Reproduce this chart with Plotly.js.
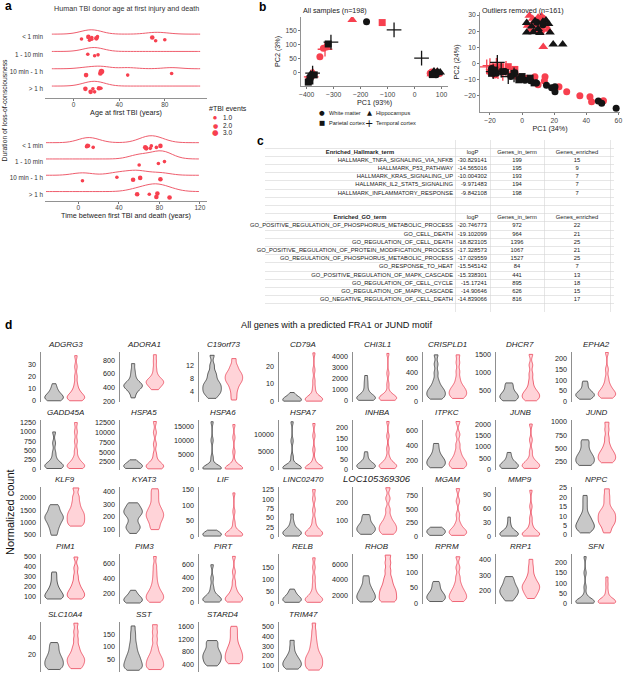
<!DOCTYPE html>
<html><head><meta charset="utf-8">
<script src="https://cdn.plot.ly/plotly-3.0.1.min.js"></script>
<style>html,body{margin:0;padding:0;background:#fff}</style>
</head><body><div id="chart" style="width:624px;height:675px"></div>
<script>
// ---------------- Panel a data ----------------
const locCategories = ['< 1 min', '1 - 10 min', '10 min - 1 h', '> 1 h'];
const ageFirstTBI = [[7,13,14,16,16,20,21,69,72,80],[12.5,18.5,21.5],[11,23.5,24.5,47.5,86],[10.4,15,17,18.5,22.3,24]];
const ageFirstTBIEvents = [[1,2,1,1,1,2,1,2,1,1],[1,1,1],[2,2,3,1,1],[2,2,1,1,2,1]];
const yearsToDeath = [[8,9,10,14.6,66,67,71,72,77,81],[60,79,85],[4,38,54,61,81],[58,70,77,78,90]];
const yearsToDeathEvents = [[1,2,1,1,2,2,1,1,1,2],[1,1,1],[1,1,2,2,2],[2,1,2,2,2]];
const tbiEventLevels = [1, 2, 3];
const tbiEventLabels = ['1.0', '2.0', '3.0'];

// ---------------- Panel b data ----------------
const tissues = ['White matter', 'Hippocampus', 'Parietal cortex', 'Temporal cortex'];
const pcaAllPC1 = [-231,-178,-120,-76,26,-320,-310,-338,-332,-351,-326,-394,-390,-387,-381,-385,-378,-383,-372,-391,-376,-388,58,64,68,74,78,83,88,72,80,66,92,85,62,76,95];
const pcaAllPC2 = [190,183,180,154,52,103,110,88,84,57,92,-34,-28,-20,-12,-6,-2,-15,-8,-25,0,-30,-2,2,-4,0,-6,3,-2,5,-8,-7,-3,4,-5,-3,1];
const pcaAllTissue = [1,0,2,3,3,2,3,0,3,0,0,2,0,0,0,1,3,3,2,2,1,2,0,0,0,1,0,1,1,1,0,2,0,1,1,0,1];
const pcaAllGroup = [1,0,1,0,0,0,0,1,1,1,1,0,1,0,1,0,0,1,0,1,1,0,1,1,0,0,1,1,0,0,0,0,1,0,1,1,0];

const pcaOutPC1 = [4.5,12.2,6.6,10,14,9,12,5,15,13.2,8,11,3.5,16,2.9,8.1,14.9,17.4,19.4,25.3,2.9,11.1,6,16.5,10,13,7,9.1,13,7,12,
  -20,-18,-15,-16,-12,-22,-10,-15.4,-8.6,-13,-5,-18,-13.3,-8.6,-4.5,-17,-17,-12,-5,0,5,7.5,-2,-19,
  -19,-16,-10.7,-4.5,1.8,5.3,18.4,20.5,15.2,20.5,47.5,49.6,58.6,-1,9,-7,
  -14,-6,8,14.3,13.9,23,27.8,36,42.3,43.3,50.7,-20,-17,-3,3,10];
const pcaOutPC2 = [29.6,29.3,27.8,28.5,27.5,24,22,21,23,10.4,20,25.5,23.5,21,25.2,26.4,26.8,19.3,11.9,11.9,19.3,19,23,24.5,21.5,26,19.5,25.6,24,24.5,20,
  -1.3,-3.5,-5,-1,-6,-2,-3,0.8,-8.1,-4,-7,-5,-1.9,-1.9,-3.6,-2,-4,-5,-6,-8,-9,-11.9,-10,-6,
  -3,-6,-4.9,-5.7,-10.3,-10.6,-14.9,-14.3,-13.3,-17.4,-23.1,-24.5,-27.6,-9,-12,-8,
  -3,-6,-8.1,-8.1,-10.8,-14.3,-17.4,-19.8,-20.4,-23.5,-22.9,-5,-7,-8,-9,-13];
const pcaOutTissue = [1,1,1,1,1,1,1,1,1,1,1,1,1,1,1,1,1,1,1,1,1,1,1,1,1,1,1,0,0,0,0,
  3,3,3,3,3,3,3,3,3,3,3,3,2,2,2,2,2,2,2,2,2,2,2,2,
  0,0,0,0,0,0,0,0,0,0,0,0,0,0,0,0,
  0,0,0,0,0,0,0,0,0,0,0,0,0,0,0,0];
const pcaOutGroup = [1,1,1,1,1,1,1,1,1,1,1,1,1,1,0,0,0,0,0,0,0,0,0,0,0,0,0,0,0,1,1,
  1,1,1,1,1,1,1,0,0,0,0,0,1,1,1,1,0,0,0,0,0,0,0,0,
  0,0,0,0,0,0,0,0,0,0,0,0,0,0,0,0,
  1,1,1,1,1,1,1,1,1,1,1,1,1,1,1,1];

// ---------------- Panel c data ----------------
const tableHeaders = ['logP', 'Genes_in_term', 'Genes_enriched'];
const hallmarkTerms = ['HALLMARK_TNFA_SIGNALING_VIA_NFKB','HALLMARK_P53_PATHWAY','HALLMARK_KRAS_SIGNALING_UP','HALLMARK_IL2_STAT5_SIGNALING','HALLMARK_INFLAMMATORY_RESPONSE'];
const hallmarkLogP = ['-30.829141','-14.565016','-10.004302','-9.971483','-9.842108'];
const hallmarkInTerm = [199,195,193,194,198];
const hallmarkEnriched = [15,9,7,7,7];
const goTerms = ['GO_POSITIVE_REGULATION_OF_PHOSPHORUS_METABOLIC_PROCESS','GO_CELL_DEATH','GO_REGULATION_OF_CELL_DEATH','GO_POSITIVE_REGULATION_OF_PROTEIN_MODIFICATION_PROCESS','GO_REGULATION_OF_PHOSPHORUS_METABOLIC_PROCESS','GO_RESPONSE_TO_HEAT','GO_POSITIVE_REGULATION_OF_MAPK_CASCADE','GO_REGULATION_OF_CELL_CYCLE','GO_REGULATION_OF_MAPK_CASCADE','GO_NEGATIVE_REGULATION_OF_CELL_DEATH'];
const goLogP = ['-20.746773','-19.102099','-18.823105','-17.328573','-17.029559','-15.545142','-15.338301','-15.17241','-14.90646','-14.839066'];
const goInTerm = [972,964,1396,1067,1527,84,441,895,626,816];
const goEnriched = [22,21,25,21,25,7,13,18,15,17];

// ---------------- Panel d data ----------------
const genes = ['ADGRG3','ADORA1','C19orf73','CD79A','CHI3L1','CRISPLD1','DHCR7','EPHA2',
  'GADD45A','HSPA5','HSPA6','HSPA7','INHBA','ITPKC','JUNB','JUND',
  'KLF9','KYAT3','LIF','LINC02470','LOC105369306','MGAM','MMP9','NPPC',
  'PIM1','PIM3','PIRT','RELB','RHOB','RPRM','RRP1','SFN',
  'SLC10A4','SST','STARD4','TRIM47'];
const ctrlCounts = [
  [0,1,1,2,2,3,3,4,5,6,7,9,11,14],
  [250,320,360,390,410,420,430,440,460,480,520,580,650,750],
  [2,3,3.5,4,4.5,5,5.5,6,6.5,7,8,9,10,12,15],
  [0,0,0,0.5,0.5,1,1,1,1.5,2,3,5],
  [50,100,150,200,250,300,350,400,500,700,1000,1400,1800,2300],
  [30,50,70,90,110,130,150,170,200,240,300,400,520,650],
  [200,230,260,290,320,350,380,420,480,560,650,700],
  [10,15,20,25,28,30,33,36,40,45,55,70,85,95],
  [20,40,60,80,100,120,150,200,300,450,700,1000],
  [800,1000,1100,1200,1300,1400,1500,1700,2000,2400,3000],
  [50,100,150,200,300,400,500,700,1500,4000,10000,16500],
  [50,100,150,200,300,400,500,700,1500,3500,8000,13500],
  [5,8,10,12,15,18,20,23,27,33,45,65,85],
  [110,130,150,170,190,210,230,260,300,360,430],
  [50,80,110,140,170,200,240,300,400,550,750],
  [180,210,240,270,300,330,360,400,450,520,600,660],
  [480,650,800,900,1000,1080,1150,1200,1250,1320,1400,1500,1620,1720],
  [70,95,110,120,130,150,175,200,215,225,235,245,255,265,280,300,310],
  [1,2,3,4,5,6,8,10,14,20],
  [1,3,5,7,9,11,13,16,20,28,40,60],
  [20,30,38,45,52,60,68,78,95,115,130],
  [20,40,60,80,100,120,140,170],
  [1,2,3,4,5,6,7,9,12,18,28,42],
  [1,2,3,3.5,4,5,5.5,6,7,8,9,10,12,15,18,21],
  [70,80,90,100,115,130,150,170,200,240,290,340],
  [70,80,90,100,110,120,135,150,170,200,240],
  [10,20,30,40,50,60,75,90,120,170,250,380,590],
  [5,8,10,12,15,18,21,25,30,38,48,60],
  [1100,1300,1500,1700,1900,2100,2300,2600,2900,3300,3900,4500],
  [5,8,12,16,20,24,28,33,40,50,60,70],
  [135,155,170,180,190,200,210,220,235,250,270,290],
  [1,2,4,6,8,10,12,15,20,40,80,150,230],
  [2,4,6,8,10,12,14,16,19,22,26,30,34],
  [5,10,15,20,25,30,36,42,48,55,62,70,80,92,105,120,140,160,185],
  [350,420,480,540,600,650,700,760,820,900,1000,1100,1150],
  [60,75,90,105,120,135,150,170,195,230,290,360]
];
const tbiCounts = [
  [0,1,1,2,3,3,4,5,6,8,10,14,20,28,37],
  [370,400,430,450,470,480,490,500,520,550,600,680,780,880],
  [1.5,3,4.5,5.5,6.5,7,7.5,8,8.5,9,9.5,10,11,12,14],
  [0,0,0.5,1,1,1,1.5,2,3,5,8,12,18,28],
  [50,100,150,200,250,300,350,400,500,800,1500,2500,4300],
  [40,60,80,100,120,140,160,180,210,250,320,420,540,650],
  [200,240,280,320,360,400,440,500,600,750,950,1200,1500],
  [15,20,25,30,35,40,45,50,60,70,85,110,150,230],
  [20,40,60,80,100,130,170,230,320,500,750,1000,1250],
  [700,900,1100,1300,1500,1800,2200,3000,4500,7000,10000,12800],
  [50,100,150,200,300,400,600,1000,2500,6000,11000,15500],
  [50,100,150,200,300,400,600,1000,2500,5500,9500,13000],
  [5,8,11,14,17,20,24,30,40,60,100,160,230],
  [100,120,140,160,180,200,230,270,330,420,550,720],
  [50,80,110,150,190,230,280,350,500,800,1300,2000],
  [230,260,290,320,350,380,410,450,500,580,700,850,990],
  [850,950,1050,1150,1250,1350,1450,1600,1800,2050,2400],
  [100,130,160,180,200,215,230,250,270,300,340,380,420],
  [1,2,3,4,5,6,8,11,16,25,45,80,140],
  [1,3,5,7,9,12,15,20,30,45,70,100,125],
  [20,30,40,50,60,70,80,95,120,160,220,280],
  [20,40,60,80,100,130,170,250,400,650,880],
  [1,2,3,4,5,6,8,11,16,25,40,65,100],
  [1,3,5,6,7,8,9,10,11,12,13,15,18,21,24.5],
  [70,85,100,115,130,150,170,200,240,300,380,490],
  [80,95,110,125,140,155,170,185,200,220,245,275,310,360,420,490,570,690],
  [10,20,35,50,65,80,100,130,170,230,330,480,720],
  [5,8,11,14,17,20,24,30,40,55,80,110,150,190],
  [1100,1300,1600,1900,2200,2500,2800,3200,3700,4300,5200,6200,7200],
  [5,10,15,20,25,30,36,43,52,65,85,115,150],
  [150,165,180,190,200,210,218,226,234,242,252,265,280,300,330,360,400],
  [1,2,4,6,8,10,12,15,20,35,60,95,130],
  [3,5,8,10,12,14,16,18,21,25,30,38,47,57],
  [8,15,22,30,38,46,55,65,80,100,130,160,190],
  [420,480,540,600,660,720,780,850,930,1020,1150,1300,1450,1600],
  [50,65,80,95,110,125,140,155,170,185,200,220,245,275,310,350,400,460,540]
];
const geneTicks = [
  [0,10,20,30],[200,400,600,800],[4,8,12],[0,10,20],[0,1000,2000,3000,4000],[0,200,400,600],[500,1000,1500],[0,50,100,150,200],
  [0,250,500,750,1000,1250],[2500,5000,7500,10000,12500],[0,5000,10000,15000],[0,5000,10000],[0,50,100,150,200],[200,400,600],[0,500,1000,1500,2000],[250,500,750,1000],
  [500,1000,1500,2000],[100,200,300,400],[0,50,100,150],[0,25,50,75,100,125],[100,200],[0,250,500,750],[0,30,60,90],[0,5,10,15,20,25],
  [100,200,300,400,500],[200,400,600],[0,200,400,600],[0,50,100,150],[2000,4000,6000],[0,50,100,150],[200,300,400],[0,50,100,150,200],
  [0,20,40],[0,50,100,150],[400,800,1200,1600],[100,200,300,400,500]
];

// ---------------- styles / layout geometry ----------------
const W = 624, H = 675;
const fx = p => p / W, fy = p => 1 - p / H;
const FONT = 'Liberation Sans, Arial, sans-serif';
const RED = '#f7404f', RIDGE = '#ef5d6d', BLACK = '#141414';
const geneYRanges = [
  [-1,40],[190,920],[0.9,16],[-0.5,28.5],[-100,4430],[-10,690],[166,1566],[-3,232],
  [-20,1320],[400,13200],[-300,17100],[-300,14000],[-2,237],[80,740],[-20,2176],[94,1031],
  [408,2438],[42,434],[-2,159],[-1.5,132],[5,284],[-10,910],[-1,107],[-1.2,25.5],
  [20,520],[57,724],[-20,757],[-2,206],[830,7340],[-3,159],[115,434],[-3,243],
  [-1,58.4],[-2,201],[157,1736],[30,551]
];
const bandwidthFrac = 0.06;
const colAxisX = [41,120,199,279,353,423,496,572];
const rowTopY = [352,420,487,554,622];

const traces = [];
const annotations = [];
const layout = {
  width: W, height: H, autosize: false,
  margin: {l:0, r:0, t:0, b:0},
  paper_bgcolor: '#ffffff', plot_bgcolor: 'rgba(0,0,0,0)',
  showlegend: false, violinmode: 'overlay',
  font: {family: FONT, color: '#222', size: 7},
  annotations: annotations
};
function ann(text, x, y, opts) {
  annotations.push(Object.assign({text: text, x: fx(x), y: fy(y), xref: 'paper', yref: 'paper',
    showarrow: false, xanchor: 'center', yanchor: 'middle', font: {size: 7, color: '#222', family: FONT}}, opts || {}));
}

// ---------------- Panel a ----------------
const pointSizes = [3.6, 4.6, 5.6];
function ridgePanel(values, events, xa, ya, span, bw, widths) {
  locCategories.forEach((cat, i) => {
    traces.push({type:'violin', orientation:'h', x: values[i], y0: cat, name: cat, xaxis: xa, yaxis: ya,
      side: 'positive', points: false, spanmode: 'manual', span: span, bandwidth: bw, width: widths[i],
      scalemode: 'width', line: {color: RIDGE, width: 1}, fillcolor: 'rgba(0,0,0,0)', hoverinfo: 'skip',
      box: {visible: false}, meanline: {visible: false}});
  });
  tbiEventLevels.forEach((lv, k) => {
    const xs = [], ys = [];
    values.forEach((arr, i) => arr.forEach((v, j) => { if (events[i][j] === lv) { xs.push(v); ys.push(locCategories[i]); } }));
    traces.push({type:'violin', orientation:'h', x: xs, y: ys, xaxis: xa, yaxis: ya, name: tbiEventLabels[k],
      points: 'all', pointpos: -0.8, jitter: 0.5, width: 0.6, bandwidth: 5, spanmode: 'hard',
      line: {width: 0, color: 'rgba(0,0,0,0)'}, fillcolor: 'rgba(0,0,0,0)', hoveron: 'points',
      marker: {size: pointSizes[k], color: RED}, box: {visible: false}, meanline: {visible: false}});
  });
}
ridgePanel(ageFirstTBI, ageFirstTBIEvents, 'x', 'y', [-19, 111], 8, [0.5, 0.45, 0.3, 0.55]);
ridgePanel(yearsToDeath, yearsToDeathEvents, 'x2', 'y2', [-32, 119], 10, [0.85, 1.0, 0.62, 0.95]);

const ridgeY = {type: 'category', categoryorder: 'array', categoryarray: locCategories.slice().reverse(),
  showline: false, ticks: '', showgrid: false, zeroline: false, tickfont: {size: 6.3, color: '#333'}, ticklabelshift: 3, ticklabelstandoff: 1};
const ridgeX = {showline: true, linecolor: '#777', linewidth: 0.8, ticks: 'outside', ticklen: 2, tickcolor: '#777',
  showgrid: false, zeroline: false, tickfont: {size: 6.5, color: '#444'}, ticklabelstandoff: -2};
layout.xaxis = Object.assign({}, ridgeX, {domain: [fx(45), fx(207)], range: [-25, 117], tickvals: [0,40,80], anchor: 'y',
  title: {text: 'Age at first TBI (years)', font: {size: 7.2, color: '#222'}, standoff: 0}});
layout.yaxis = Object.assign({}, ridgeY, {domain: [fy(98), fy(22)], range: [-0.69, 3.7], anchor: 'x'});
layout.xaxis2 = Object.assign({}, ridgeX, {domain: [fx(45), fx(207)], range: [-33, 127], tickvals: [0,40,80,120], anchor: 'y2',
  title: {text: 'Time between first TBI and death (years)', font: {size: 7.2, color: '#222'}, standoff: 0}});
layout.yaxis2 = Object.assign({}, ridgeY, {domain: [fy(201), fy(128)], range: [-0.58, 3.9], anchor: 'x2'});

ann('<b>a</b>', 3, 6, {xanchor: 'left', font: {size: 12, color: '#000', family: FONT}});
ann('Human TBI donor age at first injury and death', 126, 9, {font: {size: 7.2, color: '#333', family: FONT}});
ann('Duration of loss-of-consciousness', 3.5, 110, {textangle: -90, font: {size: 6.8, color: '#222', family: FONT}});
ann('#TBI events', 207, 109, {xanchor: 'left', font: {size: 7, color: '#222', family: FONT}});
tbiEventLabels.forEach((lab, k) => {
  ann('●', 215, 117.7 + k * 7.5, {font: {size: 4.5 + k * 1.5, color: RED, family: 'DejaVu Sans'}});
  ann(lab, 221, 117.7 + k * 7.5, {xanchor: 'left', font: {size: 6.5, color: '#222', family: FONT}});
});

// ---------------- Panel b ----------------
const tissueSymbols = ['circle', 'triangle-up', 'square', 'cross-thin-open'];
const tissueSizes = [7, 8.5, 7, 10.5];
function pcaPanel(pc1, pc2, tis, grp, xa, ya) {
  [1, 0].forEach(g => {
    tissues.forEach((t, ti) => {
      const xs = [], ys = [];
      pc1.forEach((v, i) => { if (tis[i] === ti && grp[i] === g) { xs.push(v); ys.push(pc2[i]); } });
      if (!xs.length) return;
      const col = g ? RED : BLACK;
      traces.push({type: 'scatter', mode: 'markers', x: xs, y: ys, xaxis: xa, yaxis: ya, name: t,
        marker: {symbol: tissueSymbols[ti], size: tissueSizes[ti], color: col,
          line: {width: ti === 3 ? 1.3 : 0, color: col}}});
    });
  });
}
pcaPanel(pcaAllPC1, pcaAllPC2, pcaAllTissue, pcaAllGroup, 'x3', 'y3');
pcaPanel(pcaOutPC1, pcaOutPC2, pcaOutTissue, pcaOutGroup, 'x4', 'y4');
const pcaAx = {showline: true, linecolor: '#777', linewidth: 0.8, ticks: 'outside', ticklen: 2, tickcolor: '#777',
  showgrid: false, zeroline: false, tickfont: {size: 6.8, color: '#444'}, exponentformat: 'none'};
layout.xaxis3 = Object.assign({}, pcaAx, {domain: [fx(301), fx(448)], range: [-421, 124], tickvals: [-400,-300,-200,-100,0,100], anchor: 'y3',
  title: {text: 'PC1 (93%)', font: {size: 7.2, color: '#222'}, standoff: 2}});
layout.yaxis3 = Object.assign({}, pcaAx, {domain: [fy(86), fy(17)], range: [-48, 200], tickvals: [0,50,100,150], anchor: 'x3',
  title: {text: 'PC2 (3%)', font: {size: 7.2, color: '#222'}, standoff: 3}});
layout.xaxis4 = Object.assign({}, pcaAx, {domain: [fx(480), fx(620)], range: [-26.2, 61], tickvals: [-20,0,20,40,60], anchor: 'y4',
  title: {text: 'PC1 (34%)', font: {size: 7.2, color: '#222'}, standoff: 2}});
layout.yaxis4 = Object.assign({}, pcaAx, {domain: [fy(112), fy(12)], range: [-29.9, 31.9], tickvals: [-20,-10,0,10,20,30], anchor: 'x4',
  title: {text: 'PC2 (24%)', font: {size: 7.2, color: '#222'}, standoff: 3}});
ann('<b>b</b>', 257, 7, {xanchor: 'left', font: {size: 12, color: '#000', family: FONT}});
ann('All samples (n=198)', 301, 10.7, {xanchor: 'left', font: {size: 7.2, color: '#222', family: FONT}});
ann('Outliers removed (n=161)', 480, 10.7, {xanchor: 'left', font: {size: 7.2, color: '#222', family: FONT}});
const legendGlyphs = ['●', '▲', '■', '+'];
const legendPos = [[322, 112.7], [369, 112.7], [322, 123.3], [369, 123.3]];
tissues.forEach((t, ti) => {
  const p = legendPos[ti];
  ann(legendGlyphs[ti], p[0], p[1], {font: {size: ti === 3 ? 10 : 6.5, color: BLACK, family: 'DejaVu Sans'}});
  ann(t, p[0] + 5, p[1], {xanchor: 'left', font: {size: 5.6, color: '#222', family: FONT}});
});

// ---------------- Panel c (table drawn on its own row/column axes) ----------------
const tableColEdges = [265, 455, 490, 544, 610];
const tableRowCount = 21;
const tableTextAnchor = [[453, 'middle left'], [487, 'middle left'], [517, 'middle center'], [577, 'middle center']];
const tableRows = [];   // [col1, col2, col3, col4, isHeader]
tableRows.push(['', '', '', '', false]);
tableRows.push(['<b>Enriched_Hallmark_term</b>', ...tableHeaders, true]);
hallmarkTerms.forEach((t, i) => tableRows.push([t, hallmarkLogP[i], String(hallmarkInTerm[i]), String(hallmarkEnriched[i]), false]));
tableRows.push(['', '', '', '', false], ['', '', '', '', false]);
tableRows.push(['<b>Enriched_GO_term</b>', ...tableHeaders, true]);
goTerms.forEach((t, i) => tableRows.push([t, goLogP[i], String(goInTerm[i]), String(goEnriched[i]), false]));
tableRows.push(['', '', '', '', false]);
for (let c = 0; c < 4; c++) {
  const xs = [], ys = [], txt = [], pos = [];
  tableRows.forEach((row, r) => {
    if (!row[c]) return;
    const head = row[4] && c < 2;
    xs.push(head ? (tableColEdges[c] + tableColEdges[c + 1]) / 2 : tableTextAnchor[c][0]);
    ys.push(r + 0.5);
    txt.push(row[c]);
    pos.push(head ? 'middle center' : tableTextAnchor[c][1]);
  });
  traces.push({type: 'scatter', mode: 'text', x: xs, y: ys, text: txt, textposition: pos, xaxis: 'x41', yaxis: 'y41',
    cliponaxis: false, hoverinfo: 'skip',
    textfont: {family: 'Liberation Sans Narrow, Arial Narrow, Liberation Sans', size: 5.8, color: '#222'}});
}
layout.xaxis41 = {domain: [fx(265), fx(614)], range: [265, 614], anchor: 'y41', tickvals: tableColEdges.slice(1),
  showgrid: true, gridcolor: '#d6d6d6', gridwidth: 0.6, showticklabels: false, ticks: '', zeroline: false, showline: false, fixedrange: true};
layout.yaxis41 = {domain: [fy(312), fy(140)], range: [tableRowCount, 0], anchor: 'x41',
  tickvals: Array.from({length: tableRowCount}, (_, i) => i + 1),
  showgrid: true, gridcolor: '#d6d6d6', gridwidth: 0.6, showticklabels: false, ticks: '', zeroline: false, showline: false, fixedrange: true};
ann('<b>c</b>', 255, 141, {xanchor: 'left', font: {size: 12, color: '#000', family: FONT}});

// ---------------- Panel d ----------------
ann('<b>d</b>', 3, 325, {xanchor: 'left', font: {size: 12, color: '#000', family: FONT}});
ann('All genes with a predicted FRA1 or JUND motif', 336, 325, {font: {size: 9.2, color: '#111', family: FONT}});
ann('Normalized count', 10, 512, {textangle: -90, font: {size: 11, color: '#111', family: FONT}});
genes.forEach((g, i) => {
  const r = Math.floor(i / 8), c = i % 8, n = i + 5;
  const xa = 'x' + n, ya = 'y' + n;
  const bw = (geneYRanges[i][1] - geneYRanges[i][0]) * bandwidthFrac;
  traces.push({type: 'violin', x0: 'Control', name: 'Control', y: ctrlCounts[i], xaxis: xa, yaxis: ya,
    points: false, spanmode: 'hard', scalemode: 'width', width: 0.85, side: 'both', bandwidth: bw,
    line: {color: '#3a3a3a', width: 0.8}, fillcolor: '#c8c8c8', box: {visible: false}, meanline: {visible: false}, hoverinfo: 'skip'});
  traces.push({type: 'violin', x0: 'TBI', name: 'TBI', y: tbiCounts[i], xaxis: xa, yaxis: ya,
    points: false, spanmode: 'hard', scalemode: 'width', width: 0.8, side: 'both', bandwidth: bw,
    line: {color: '#ea4257', width: 0.8}, fillcolor: '#ffd3d8', box: {visible: false}, meanline: {visible: false}, hoverinfo: 'skip'});
  const x0 = colAxisX[c], top = rowTopY[r];
  layout['xaxis' + n] = {domain: [fx(x0), fx(x0 + 48)], anchor: ya, type: 'category', categoryorder: 'array',
    categoryarray: ['Control', 'TBI'], range: [-0.6, 1.6], visible: false, fixedrange: true};
  layout['yaxis' + n] = {domain: [fy(top + 50), fy(top)], anchor: xa, range: geneYRanges[i],
    tickvals: geneTicks[i], ticktext: geneTicks[i].map(String),
    showline: true, linecolor: '#8f8f8f', linewidth: 1.5, ticks: '', showgrid: false, zeroline: false,
    tickfont: {size: 7.2, color: '#222'}, ticklabelstandoff: 2, fixedrange: true};
  annotations.push({text: '<i>' + g + '</i>', xref: xa + ' domain', yref: ya + ' domain', x: 0.5, y: 1,
    xanchor: 'center', yanchor: 'bottom', yshift: 1, showarrow: false,
    font: {size: g.length > 10 ? 9.5 : 8, color: '#222', family: FONT}});
});

Plotly.newPlot('chart', traces, layout, {displayModeBar: false, staticPlot: true});
</script>
</body></html>
